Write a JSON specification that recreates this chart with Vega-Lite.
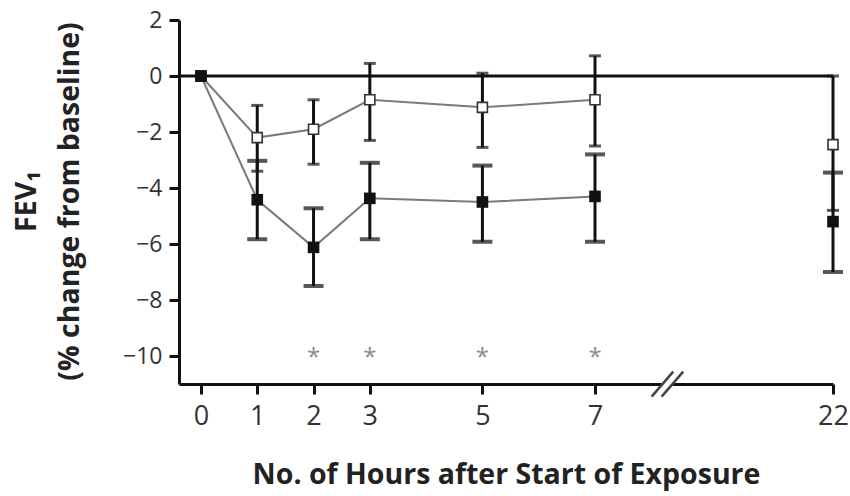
{
  "$schema": "https://vega.github.io/schema/vega-lite/v6.json",
  "width": 654,
  "height": 364,
  "autosize": {"type": "none"},
  "padding": {"left": 179, "top": 20, "right": 17, "bottom": 112},
  "background": "white",
  "config": {
    "view": {"stroke": null},
    "font": "Open Sans",
    "axis": {
      "grid": false,
      "domainColor": "#111",
      "domainWidth": 3,
      "tickColor": "#111",
      "tickWidth": 3,
      "tickSize": 10,
      "labelColor": "#333",
      "labelFont": "Open Sans",
      "titleFont": "Open Sans",
      "titleFontWeight": "bold",
      "titleColor": "#222",
      "titleFontSize": 28.5
    }
  },
  "datasets": {
    "fev": [
      {"hour": 0, "group": "open", "mean": 0, "lo": null, "hi": null},
      {"hour": 1, "group": "open", "mean": -2.2, "lo": -3.4, "hi": -1.05},
      {"hour": 2, "group": "open", "mean": -1.9, "lo": -3.15, "hi": -0.85},
      {"hour": 3, "group": "open", "mean": -0.85, "lo": -2.3, "hi": 0.45},
      {"hour": 5, "group": "open", "mean": -1.12, "lo": -2.55, "hi": 0.1},
      {"hour": 7, "group": "open", "mean": -0.85, "lo": -2.5, "hi": 0.72},
      {"hour": 22, "group": "open", "mean": -2.45, "lo": -4.8, "hi": 0.0},
      {"hour": 0, "group": "filled", "mean": 0, "lo": null, "hi": null},
      {"hour": 1, "group": "filled", "mean": -4.42, "lo": -5.83, "hi": -3.03},
      {"hour": 2, "group": "filled", "mean": -6.12, "lo": -7.5, "hi": -4.72},
      {"hour": 3, "group": "filled", "mean": -4.37, "lo": -5.83, "hi": -3.1},
      {"hour": 5, "group": "filled", "mean": -4.5, "lo": -5.92, "hi": -3.2},
      {"hour": 7, "group": "filled", "mean": -4.3, "lo": -5.92, "hi": -2.8},
      {"hour": 22, "group": "filled", "mean": -5.2, "lo": -7.0, "hi": -3.45}
    ],
    "stars": [
      {"hour": 2, "y": -10, "label": "*"},
      {"hour": 3, "y": -10, "label": "*"},
      {"hour": 5, "y": -10, "label": "*"},
      {"hour": 7, "y": -10, "label": "*"}
    ],
    "brk": [
      {"kind": "gap", "x": 10.88, "x2": 12.25, "y": -11.45, "y2": -10.56},
      {"kind": "slash", "x": 10.57, "x2": 11.93, "y": -11.45, "y2": -10.56},
      {"kind": "slash", "x": 11.2, "x2": 12.56, "y": -11.45, "y2": -10.56}
    ],
    "ref": [{"level": 0}]
  },
  "layer": [
    {
      "data": {"name": "fev"},
      "transform": [{"filter": "datum.hour <= 7"}],
      "mark": {"type": "line", "color": "#7a7a7a", "strokeWidth": 2},
      "encoding": {
        "x": {
          "field": "hour",
          "type": "quantitative",
          "scale": {"domain": [-0.39, 7, 22], "range": [0, 416, 654], "nice": false, "zero": false},
          "axis": {
            "values": [0, 1, 2, 3, 5, 7, 22],
            "labelFontSize": 27,
            "labelPadding": 9,
            "labelFlush": false,
            "title": "No. of Hours after Start of Exposure",
            "titleBaseline": "alphabetic",
            "titleY": 99
          }
        },
        "y": {
          "field": "mean",
          "type": "quantitative",
          "scale": {"domain": [-11, 2], "nice": false, "zero": false},
          "axis": {
            "values": [-10, -8, -6, -4, -2, 0, 2],
            "labelFontSize": 23,
            "labelPadding": 7,
            "title": ["FEV₁", "(% change from baseline)"],
            "titleBaseline": "alphabetic",
            "titleAngle": 270,
            "titleLineHeight": 43,
            "titleX": -144,
            "titleY": 181
          }
        },
        "detail": {"field": "group"}
      }
    },
    {
      "data": {"name": "ref"},
      "mark": {"type": "rule", "color": "#111", "strokeWidth": 3},
      "encoding": {
        "y": {"field": "level", "type": "quantitative", "scale": {"domain": [-11, 2], "nice": false, "zero": false}}
      }
    },
    {
      "data": {"name": "fev"},
      "transform": [{"filter": "datum.lo != null"}],
      "mark": {"type": "rule", "color": "#111", "strokeWidth": 3},
      "encoding": {
        "x": {"field": "hour", "type": "quantitative", "scale": {"domain": [-0.39, 7, 22], "range": [0, 416, 654], "nice": false, "zero": false}},
        "y": {"field": "lo", "type": "quantitative", "scale": {"domain": [-11, 2], "nice": false, "zero": false}},
        "y2": {"field": "hi"}
      }
    },
    {
      "data": {"name": "fev"},
      "transform": [
        {"filter": "datum.lo != null && datum.group == 'open'"},
        {"fold": ["lo", "hi"], "as": ["end", "value"]}
      ],
      "mark": {"type": "tick", "orient": "horizontal", "color": "#111", "size": 12, "thickness": 3},
      "encoding": {
        "x": {"field": "hour", "type": "quantitative", "scale": {"domain": [-0.39, 7, 22], "range": [0, 416, 654], "nice": false, "zero": false}},
        "y": {"field": "value", "type": "quantitative", "scale": {"domain": [-11, 2], "nice": false, "zero": false}}
      }
    },
    {
      "data": {"name": "fev"},
      "transform": [
        {"filter": "datum.lo != null && datum.group == 'filled'"},
        {"fold": ["lo", "hi"], "as": ["end", "value"]}
      ],
      "mark": {"type": "tick", "orient": "horizontal", "color": "#111", "size": 20, "thickness": 4},
      "encoding": {
        "x": {"field": "hour", "type": "quantitative", "scale": {"domain": [-0.39, 7, 22], "range": [0, 416, 654], "nice": false, "zero": false}},
        "y": {"field": "value", "type": "quantitative", "scale": {"domain": [-11, 2], "nice": false, "zero": false}}
      }
    },
    {
      "data": {"name": "fev"},
      "transform": [{"filter": "datum.group == 'open'"}],
      "mark": {"type": "point", "shape": "square", "filled": true, "fill": "white", "stroke": "#333", "strokeWidth": 1.6, "size": 100, "opacity": 1},
      "encoding": {
        "x": {"field": "hour", "type": "quantitative", "scale": {"domain": [-0.39, 7, 22], "range": [0, 416, 654], "nice": false, "zero": false}},
        "y": {"field": "mean", "type": "quantitative", "scale": {"domain": [-11, 2], "nice": false, "zero": false}}
      }
    },
    {
      "data": {"name": "fev"},
      "transform": [{"filter": "datum.group == 'filled'"}],
      "mark": {"type": "point", "shape": "square", "filled": true, "color": "#111", "size": 135, "opacity": 1},
      "encoding": {
        "x": {"field": "hour", "type": "quantitative", "scale": {"domain": [-0.39, 7, 22], "range": [0, 416, 654], "nice": false, "zero": false}},
        "y": {"field": "mean", "type": "quantitative", "scale": {"domain": [-11, 2], "nice": false, "zero": false}}
      }
    },
    {
      "data": {"name": "stars"},
      "mark": {"type": "text", "font": "Open Sans", "fontSize": 24, "color": "#8a8a8a", "baseline": "middle", "dy": 2},
      "encoding": {
        "x": {"field": "hour", "type": "quantitative", "scale": {"domain": [-0.39, 7, 22], "range": [0, 416, 654], "nice": false, "zero": false}},
        "y": {"field": "y", "type": "quantitative", "scale": {"domain": [-11, 2], "nice": false, "zero": false}},
        "text": {"field": "label"}
      }
    },
    {
      "data": {"name": "brk"},
      "transform": [{"filter": "datum.kind == 'gap'"}],
      "mark": {"type": "rule", "color": "white", "strokeWidth": 6, "clip": false},
      "encoding": {
        "x": {"field": "x", "type": "quantitative", "scale": {"domain": [-0.39, 7, 22], "range": [0, 416, 654], "nice": false, "zero": false}},
        "x2": {"field": "x2"},
        "y": {"field": "y", "type": "quantitative", "scale": {"domain": [-11, 2], "nice": false, "zero": false}},
        "y2": {"field": "y2"}
      }
    },
    {
      "data": {"name": "brk"},
      "transform": [{"filter": "datum.kind == 'slash'"}],
      "mark": {"type": "rule", "color": "#444", "strokeWidth": 2.5, "clip": false},
      "encoding": {
        "x": {"field": "x", "type": "quantitative", "scale": {"domain": [-0.39, 7, 22], "range": [0, 416, 654], "nice": false, "zero": false}},
        "x2": {"field": "x2"},
        "y": {"field": "y", "type": "quantitative", "scale": {"domain": [-11, 2], "nice": false, "zero": false}},
        "y2": {"field": "y2"}
      }
    }
  ]
}
